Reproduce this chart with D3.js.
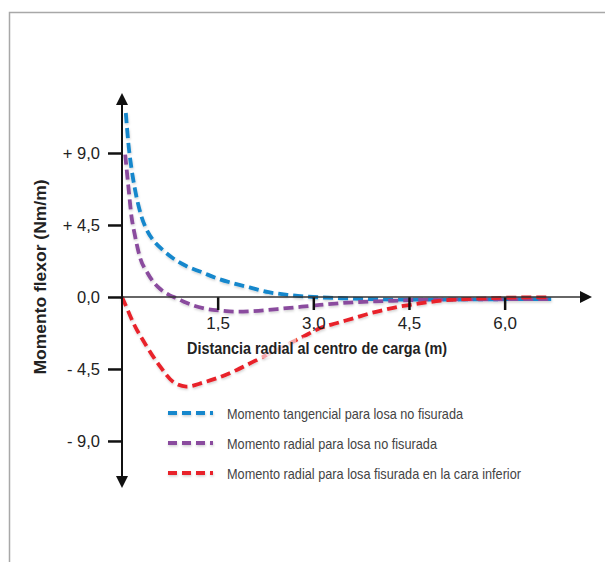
<!DOCTYPE html>
<html>
<head>
<meta charset="utf-8">
<script src="https://cdn.jsdelivr.net/npm/d3@7"></script>
<style>
  body { margin: 0; background: #fff; }
  svg text { font-family: "Liberation Sans", Arial, sans-serif; }
</style>
</head>
<body>
<div id="container"></div>
<script>
let w = 605;
let h = 562;

// distancia radial (m) y momento (Nm/m)
let xTang = [0.06, 0.1, 0.15, 0.2, 0.3, 0.4, 0.5, 0.65, 0.8, 1.0, 1.25, 1.5, 1.75, 2.0, 2.3, 2.6, 3.0, 3.5, 4.0, 4.5, 5.0, 5.5, 6.0, 6.73];
let vTang = [11.5, 9.6, 8.0, 6.8, 5.1, 4.1, 3.5, 2.9, 2.42, 1.95, 1.55, 1.15, 0.85, 0.6, 0.3, 0.13, 0.0, -0.08, -0.14, -0.17, -0.17, -0.15, -0.14, -0.13];

let xRad = [0.05, 0.1, 0.15, 0.2, 0.28, 0.4, 0.49, 0.6, 0.75, 0.86, 1.0, 1.27, 1.54, 1.8, 2.06, 2.58, 3.1, 3.63, 4.15, 4.56, 5.0, 5.5, 6.0, 6.73];
let vRad = [8.9, 6.9, 5.0, 3.9, 2.5, 1.5, 0.95, 0.5, 0.1, -0.08, -0.35, -0.7, -0.85, -0.92, -0.88, -0.7, -0.5, -0.33, -0.25, -0.19, -0.16, -0.15, -0.14, -0.13];

let xFis = [0, 0.05, 0.18, 0.39, 0.6, 0.8, 1.01, 1.27, 1.54, 1.8, 2.06, 2.32, 2.58, 2.84, 3.1, 3.36, 3.63, 3.89, 4.15, 4.41, 4.67, 5.09, 5.6, 6.13, 6.73];
let vFis = [0, -0.45, -1.64, -3.1, -4.36, -5.3, -5.6, -5.35, -5.0, -4.56, -4.04, -3.52, -3.0, -2.48, -1.96, -1.64, -1.33, -1.02, -0.77, -0.56, -0.4, -0.2, -0.1, -0.04, -0.02];

let xTicks = [1.5, 3.0, 4.5, 6.0];
let yTicks = [9.0, 4.5, 0.0, -4.5, -9.0];
let yTickLabels = ["+ 9,0", "+ 4,5", "0,0", "- 4,5", "- 9,0"];

let seriesNames = [
  "Momento tangencial para losa no fisurada",
  "Momento radial para losa no fisurada",
  "Momento radial para losa fisurada en la cara inferior"
];
let seriesColors = ["#1487cc", "#8a4c9e", "#e8232b"];
let legendWidths = [236, 210, 294];

let viz = d3.select("#container")
  .append("svg")
  .attr("width", w)
  .attr("height", h);

let defs = viz.append("defs");
defs.append("filter").attr("id", "shadow")
  .attr("filterUnits", "userSpaceOnUse")
  .attr("x", 0).attr("y", 0).attr("width", w).attr("height", h)
  .append("feDropShadow")
  .attr("dx", 0.5).attr("dy", 1.5).attr("stdDeviation", 1.2)
  .attr("flood-color", "#000").attr("flood-opacity", 0.18);

// marco gris
viz.append("rect")
  .attr("x", 9.5).attr("y", 12.5)
  .attr("width", 700).attr("height", 700)
  .attr("fill", "none")
  .attr("stroke", "#a8a8a8")
  .attr("stroke-width", 1.5);

let xScale = d3.scaleLinear().domain([0, 7.37]).range([122, 592]);
let yScale = d3.scaleLinear().domain([-11.94, 12.75]).range([488, 93]);

// curvas
let series = [
  { x: xTang, v: vTang },
  { x: xRad, v: vRad },
  { x: xFis, v: vFis }
];

let line = d3.line()
  .x(d => xScale(d[0]))
  .y(d => yScale(d[1]))
  .curve(d3.curveMonotoneX);

let curves = viz.append("g").attr("filter", "url(#shadow)");
series.forEach((s, i) => {
  curves.append("path")
    .attr("d", line(s.x.map((x, j) => [x, s.v[j]])))
    .attr("fill", "none")
    .attr("stroke", seriesColors[i])
    .attr("stroke-width", 3.8)
    .attr("stroke-dasharray", "10,5");
});

// eje x
let xAxis = d3.axisBottom(xScale)
  .tickValues(xTicks)
  .tickSize(13)
  .tickPadding(7)
  .tickFormat(d => d3.format(".1f")(d).replace(".", ","));

let gx = viz.append("g")
  .attr("transform", `translate(0,${yScale(0)})`)
  .call(xAxis);
gx.select(".domain").remove();
gx.selectAll(".tick line").attr("stroke", "#111").attr("stroke-width", 2.5);
gx.selectAll(".tick text").attr("font-size", 17).attr("fill", "#222");

// eje y
let yAxis = d3.axisLeft(yScale)
  .tickValues(yTicks)
  .tickSize(14)
  .tickPadding(8)
  .tickFormat((d, i) => yTickLabels[i]);

let gy = viz.append("g")
  .attr("transform", `translate(${xScale(0)},0)`)
  .call(yAxis);
gy.select(".domain").remove();
gy.selectAll(".tick line").attr("stroke", "#111").attr("stroke-width", 2.5);
gy.selectAll(".tick text").attr("font-size", 16.5).attr("fill", "#222");

// lineas de ejes con flechas
viz.append("line")
  .attr("x1", xScale(0)).attr("x2", xScale(7.37) - 10)
  .attr("y1", yScale(0)).attr("y2", yScale(0))
  .attr("stroke", "#333").attr("stroke-width", 1.4);
viz.append("line")
  .attr("x1", xScale(0)).attr("x2", xScale(0))
  .attr("y1", yScale(12.75) + 8).attr("y2", yScale(-11.94) - 8)
  .attr("stroke", "#111").attr("stroke-width", 2);

let ax = xScale(7.37), ay = yScale(0);
viz.append("path")
  .attr("d", `M${ax},${ay} L${ax - 12},${ay - 6} L${ax - 12},${ay + 6} Z`)
  .attr("fill", "#111");
let ux = xScale(0), uy = yScale(12.75);
viz.append("path")
  .attr("d", `M${ux},${uy} L${ux - 6},${uy + 12} L${ux + 6},${uy + 12} Z`)
  .attr("fill", "#111");
let dy = yScale(-11.94);
viz.append("path")
  .attr("d", `M${ux},${dy} L${ux - 6},${dy - 12} L${ux + 6},${dy - 12} Z`)
  .attr("fill", "#111");

// titulos de ejes
viz.append("text")
  .attr("x", 317).attr("y", 348)
  .attr("text-anchor", "middle")
  .attr("dominant-baseline", "central")
  .attr("font-size", 17)
  .attr("font-weight", "bold")
  .attr("fill", "#222")
  .attr("textLength", 260)
  .attr("lengthAdjust", "spacingAndGlyphs")
  .attr("stroke", "#fff").attr("stroke-opacity", 0.6).attr("stroke-width", 9)
  .attr("paint-order", "stroke")
  .text("Distancia radial al centro de carga (m)");

viz.append("text")
  .attr("transform", "translate(40,277) rotate(-90)")
  .attr("text-anchor", "middle")
  .attr("dominant-baseline", "central")
  .attr("font-size", 17)
  .attr("font-weight", "bold")
  .attr("fill", "#222")
  .attr("textLength", 195)
  .attr("lengthAdjust", "spacingAndGlyphs")
  .text("Momento flexor (Nm/m)");

// leyenda
let legend = viz.append("g");
seriesNames.forEach((name, i) => {
  let ly = 413 + i * 30;
  legend.append("line")
    .attr("x1", 168).attr("x2", 213)
    .attr("y1", ly).attr("y2", ly)
    .attr("stroke", seriesColors[i])
    .attr("stroke-width", 3.8)
    .attr("stroke-dasharray", "9,5")
    .attr("filter", "url(#shadow)");
  legend.append("text")
    .attr("x", 227).attr("y", ly)
    .attr("dominant-baseline", "central")
    .attr("font-size", 15)
    .attr("fill", "#444")
    .attr("textLength", legendWidths[i])
    .attr("lengthAdjust", "spacingAndGlyphs")
    .text(name);
});
</script>
</body>
</html>
